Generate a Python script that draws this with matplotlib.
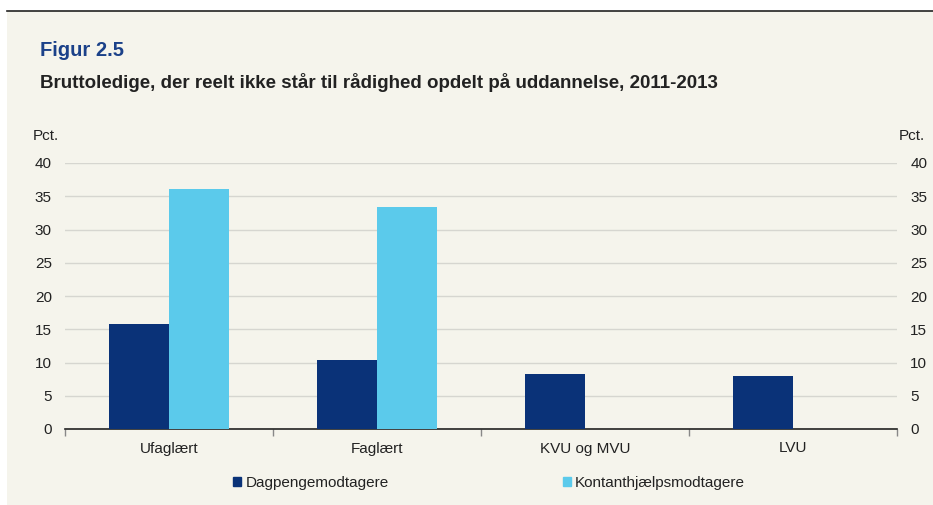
import numpy as np
from matplotlib import pyplot as plt
from matplotlib.patches import Rectangle
from matplotlib.lines import Line2D

categories = ["Ufaglært", "Faglært", "KVU og MVU", "LVU"]
dagpenge = [15.8, 10.4, 8.2, 8.0]
kontant = [36.1, 33.4, np.nan, np.nan]
series_names = ["Dagpengemodtagere", "Kontanthjælpsmodtagere"]
yticks = [0, 5, 10, 15, 20, 25, 30, 35, 40]

DARK = "#0a3278"
LIGHT = "#5bcaeb"
BG = "#f5f4ec"
TXT = "#222222"
FS = 11

plt.rcParams["font.family"] = ["Liberation Sans", "DejaVu Sans"]

W, H = 933, 505
fig = plt.figure(figsize=(W / 100, H / 100), dpi=100)
fig.patch.set_facecolor("white")

# beige panel and top rule
fig.patches.append(Rectangle((7 / W, 0), 1 - 7 / W, 1 - 11 / H,
                             transform=fig.transFigure, facecolor=BG,
                             edgecolor="none", zorder=-10))
fig.lines.append(Line2D([7 / W, 1], [1 - 11 / H, 1 - 11 / H],
                        transform=fig.transFigure, color="#222222", lw=1.2,
                        zorder=-9))

fig.text(40 / W, 1 - 50 / H, "Figur 2.5", color="#1b4189", fontsize=14.5,
         fontweight="bold", va="center", ha="left")
fig.text(40 / W, 1 - 83 / H,
         "Bruttoledige, der reelt ikke står til rådighed opdelt på uddannelse, 2011-2013",
         color=TXT, fontsize=13.5, fontweight="bold", va="center", ha="left")

left, right, top, bottom = 65, 897, 163, 429
ax = fig.add_axes([left / W, 1 - bottom / H, (right - left) / W, (bottom - top) / H])
ax.set_facecolor("none")

x = np.arange(len(categories))
w = 0.288
ax.bar(x - w / 2, dagpenge, w, color=DARK, zorder=3)
ax.bar(x + w / 2, kontant, w, color=LIGHT, zorder=3)

ax.set_xlim(-0.5, len(categories) - 0.5)
ax.set_ylim(0, 40)
ax.set_yticks(yticks)
ax.yaxis.grid(True, color="#d6d6d0", lw=1)
ax.set_axisbelow(True)
ax.tick_params(axis="y", length=0, labelsize=FS, labelcolor=TXT, pad=9.5,
               labelright=True, right=False)

ax.set_xticks(np.arange(-0.5, len(categories)), minor=False)
ax.set_xticklabels([])
ax.set_xticks(x, minor=True)
ax.set_xticklabels(categories, minor=True)
ax.tick_params(axis="x", which="major", length=5, color="#888888", width=1)
ax.tick_params(axis="x", which="minor", length=0, labelsize=FS,
               labelcolor=TXT, pad=9)

for side in ["top", "left", "right"]:
    ax.spines[side].set_visible(False)
ax.spines["bottom"].set_color("#222222")
ax.spines["bottom"].set_linewidth(1.2)

fig.text(33 / W, 1 - 136 / H, "Pct.", fontsize=FS, color=TXT, va="center", ha="left")
fig.text(925 / W, 1 - 136 / H, "Pct.", fontsize=FS, color=TXT, va="center", ha="right")

handles = [Rectangle((0, 0), 1, 1, color=DARK), Rectangle((0, 0), 1, 1, color=LIGHT)]
fig.legend(handles, series_names, loc="center", bbox_to_anchor=(489 / W, 1 - 483 / H),
           ncol=2, frameon=False, fontsize=FS, handlelength=0.55, handleheight=0.55,
           handletextpad=0.26, columnspacing=11.4, labelcolor=TXT)

fig.savefig("out.png", dpi=100, facecolor=fig.get_facecolor())
